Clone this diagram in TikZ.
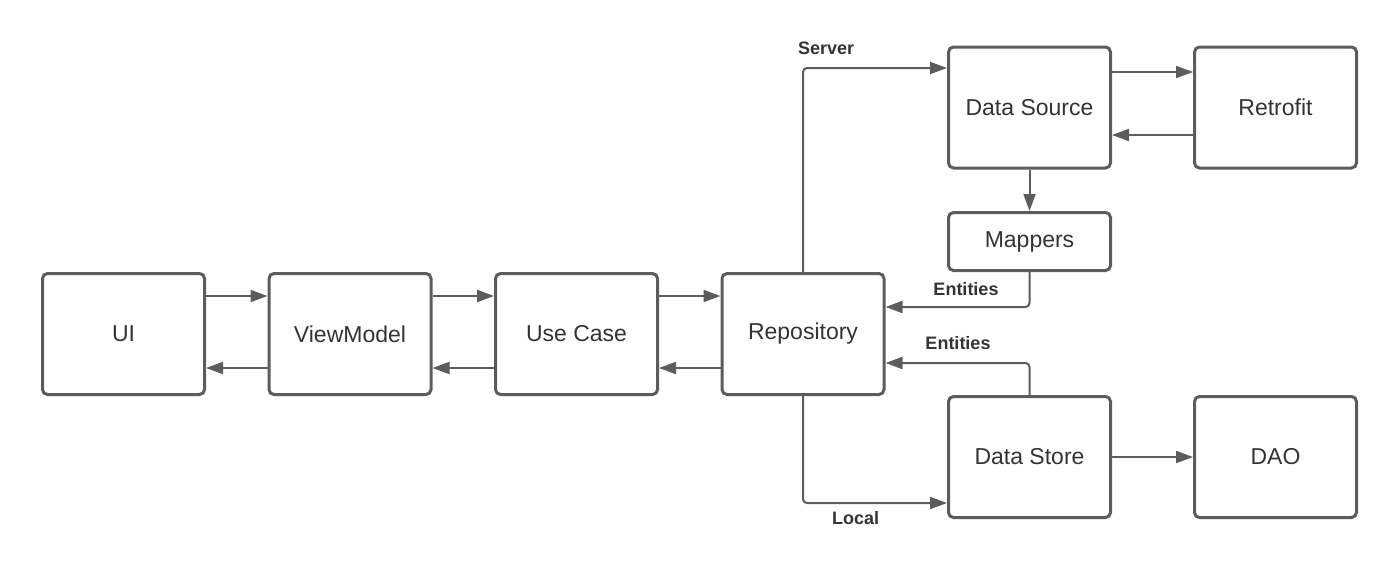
\documentclass[tikz,border=0pt]{standalone}
\usepackage{fontspec}
\setmainfont{Liberation Sans}
\usetikzlibrary{positioning,arrows.meta}
\definecolor{linegray}{HTML}{5C5C5C}
\definecolor{textgray}{HTML}{333333}
\tikzstyle{block} = [
rounded corners=5pt,
line width=3pt,
draw=linegray,
text=textgray,
minimum width=162pt,
minimum height=121pt,
font=\fontsize{23}{27}\selectfont
]
\tikzstyle{smallblock} = [
block,
minimum height=58pt
]
\tikzstyle{conn} = [
line width=2pt,
draw=linegray,
rounded corners=4pt,
-{Triangle[length=17pt,width=12pt]}
]
\tikzstyle{lbl} = [
inner sep=0pt,
text=textgray,
font=\fontsize{18}{22}\selectfont\bfseries
]

\begin{document}
\begin{tikzpicture}[
	node distance=61.5pt
	]
	\useasboundingbox (0,0) rectangle (1400pt,-570pt);
	
	\node[block] (ui) at (123.5pt,-334pt) {UI};
	\node[block,right=of ui] (vm) {ViewModel};
	\node[block,right=of vm] (uc) {Use Case};
	\node[block,right=of uc] (repo) {Repository};
	
	\node[block,above right=102.5pt and 61.5pt of repo] (dsrc) {Data Source};
	\node[block,right=81pt of dsrc] (retro) {Retrofit};
	\node[smallblock,below=41.5pt of dsrc] (map) {Mappers};
	
	\node[block,below right=-1pt and 61.5pt of repo] (dstore) {Data Store};
	\node[block,right=81pt of dstore] (dao) {DAO};
	
	\draw[conn] ([yshift=38pt]ui.east) -- ([yshift=38pt]vm.west);
	\draw[conn] ([yshift=-34pt]vm.west) -- ([yshift=-34pt]ui.east);
	\draw[conn] ([yshift=38pt]vm.east) -- ([yshift=38pt]uc.west);
	\draw[conn] ([yshift=-34pt]uc.west) -- ([yshift=-34pt]vm.east);
	\draw[conn] ([yshift=38pt]uc.east) -- ([yshift=38pt]repo.west);
	\draw[conn] ([yshift=-34pt]repo.west) -- ([yshift=-34pt]uc.east);
	
	\draw[conn] (repo.north) |- node[lbl,pos=0.5,above right=12pt and -6pt] {Server} ([yshift=39.5pt]dsrc.west);
	\draw[conn] (repo.south) |- node[lbl,pos=0.5,below right=7pt and 28pt] {Local} ([yshift=-46pt]dstore.west);
	
	\draw[conn] ([yshift=35.5pt]dsrc.east) -- ([yshift=35.5pt]retro.west);
	\draw[conn] ([yshift=-27.5pt]retro.west) -- ([yshift=-27.5pt]dsrc.east);
	\draw[conn] (dsrc) -- (map);
	\draw[conn] (map.south) |- node[lbl,pos=0.5,above left=10pt and 30pt] {Entities} ([yshift=27pt]repo.east);
	\draw[conn] (dstore.north) |- node[lbl,pos=0.5,above left=12pt and 38pt] {Entities} ([yshift=-29pt]repo.east);
	\draw[conn] (dstore) -- (dao);
\end{tikzpicture}
\end{document}
